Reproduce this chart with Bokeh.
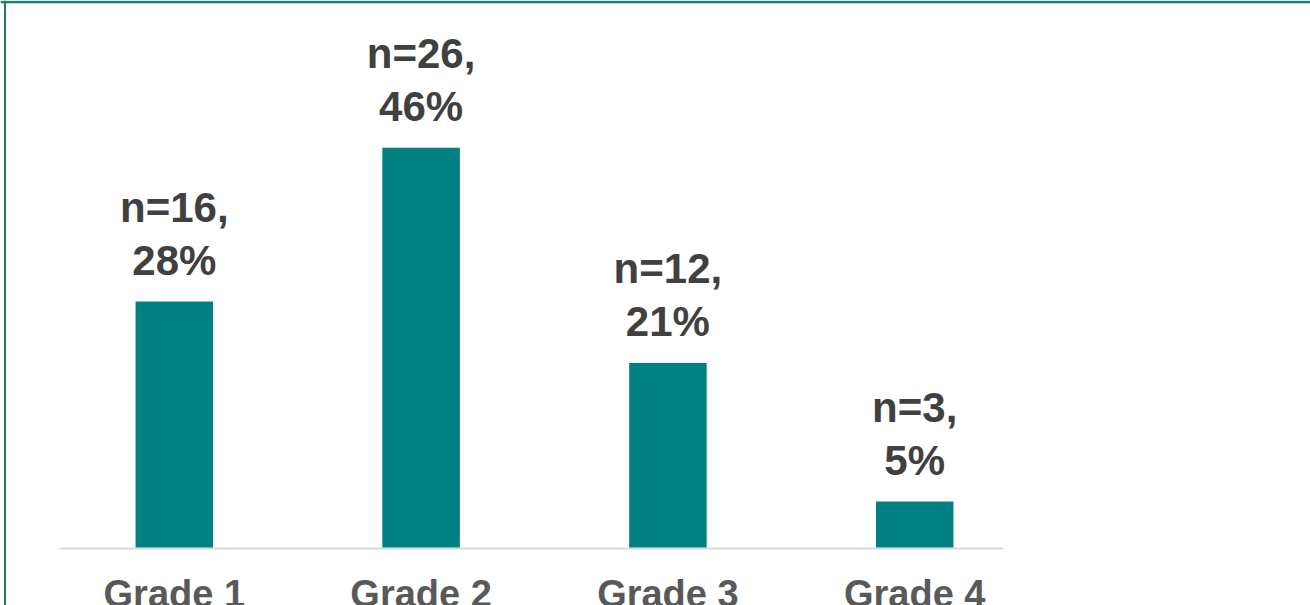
from bokeh.plotting import figure
from bokeh.models import Range1d, ColumnDataSource, Span
from bokeh.core.properties import value
from bokeh.embed import file_html
from bokeh.resources import INLINE

# ---- data ----
categories = ["Grade 1", "Grade 2", "Grade 3", "Grade 4"]
counts = [16, 26, 12, 3]
percents = [28.07, 45.61, 21.05, 5.26]
pct_labels = ["28%", "46%", "21%", "5%"]
n_labels = ["n=%d," % c for c in counts]

# ---- layout (pixel geometry) ----
W, H = 1310, 605
X0_PX, STEP_PX = 173.8, 246.8     # first category centre, spacing
BASE_PX, PX_PER_PCT = 547.0, 8.765  # baseline row, pixels per percent


def px_to_x(px):
    return (px - X0_PX) / STEP_PX


def px_to_y(py):
    return (BASE_PX - py) / PX_PER_PCT


xs = list(range(len(categories)))
src = ColumnDataSource(dict(
    x=xs,
    top=percents,
    pct=pct_labels,
    n=n_labels,
    cat=categories,
    y_pct=[v + 41.0 / PX_PER_PCT for v in percents],
    y_n=[v + 94.0 / PX_PER_PCT for v in percents],
    y_cat=[px_to_y(593.5)] * len(categories),
))

p = figure(width=W, height=H, output_backend="svg", toolbar_location=None,
           x_range=Range1d(px_to_x(0), px_to_x(W)),
           y_range=Range1d(px_to_y(H), px_to_y(0)),
           x_axis_type=None, y_axis_type=None, min_border=0,
           background_fill_color="white", border_fill_color="white")
p.grid.visible = False
p.outline_line_color = None

# baseline (category axis line)
p.segment(x0=[px_to_x(59)], x1=[px_to_x(1003)], y0=[px_to_y(548)], y1=[px_to_y(548)],
          line_color="#d9d9d9", line_width=2)

# bars
p.vbar(x="x", top="top", bottom=0, width=77.5 / STEP_PX, source=src,
       fill_color="#008080", line_color=None)

label_font = value("Liberation Sans")
p.text(x="x", y="y_pct", text="pct", source=src, text_font=label_font,
       text_font_style="bold", text_font_size="42px", text_color="#404040",
       text_align="center", text_baseline="alphabetic")
p.text(x="x", y="y_n", text="n", source=src, text_font=label_font,
       text_font_style="bold", text_font_size="42px", text_color="#404040",
       text_align="center", text_baseline="alphabetic")
p.text(x="x", y="y_cat", text="cat", source=src, text_font=label_font,
       text_font_style="bold", text_font_size="38px", text_color="#595959",
       text_align="center", text_baseline="alphabetic")

# teal frame border (top and left edges)
p.add_layout(Span(location=px_to_x(4.5), dimension="height",
                  line_color="#1f7a70", line_width=2))
p.add_layout(Span(location=px_to_y(1.5), dimension="width",
                  line_color="#1f7a70", line_width=2.5))

open("out.html", "w").write(file_html(p, INLINE))
